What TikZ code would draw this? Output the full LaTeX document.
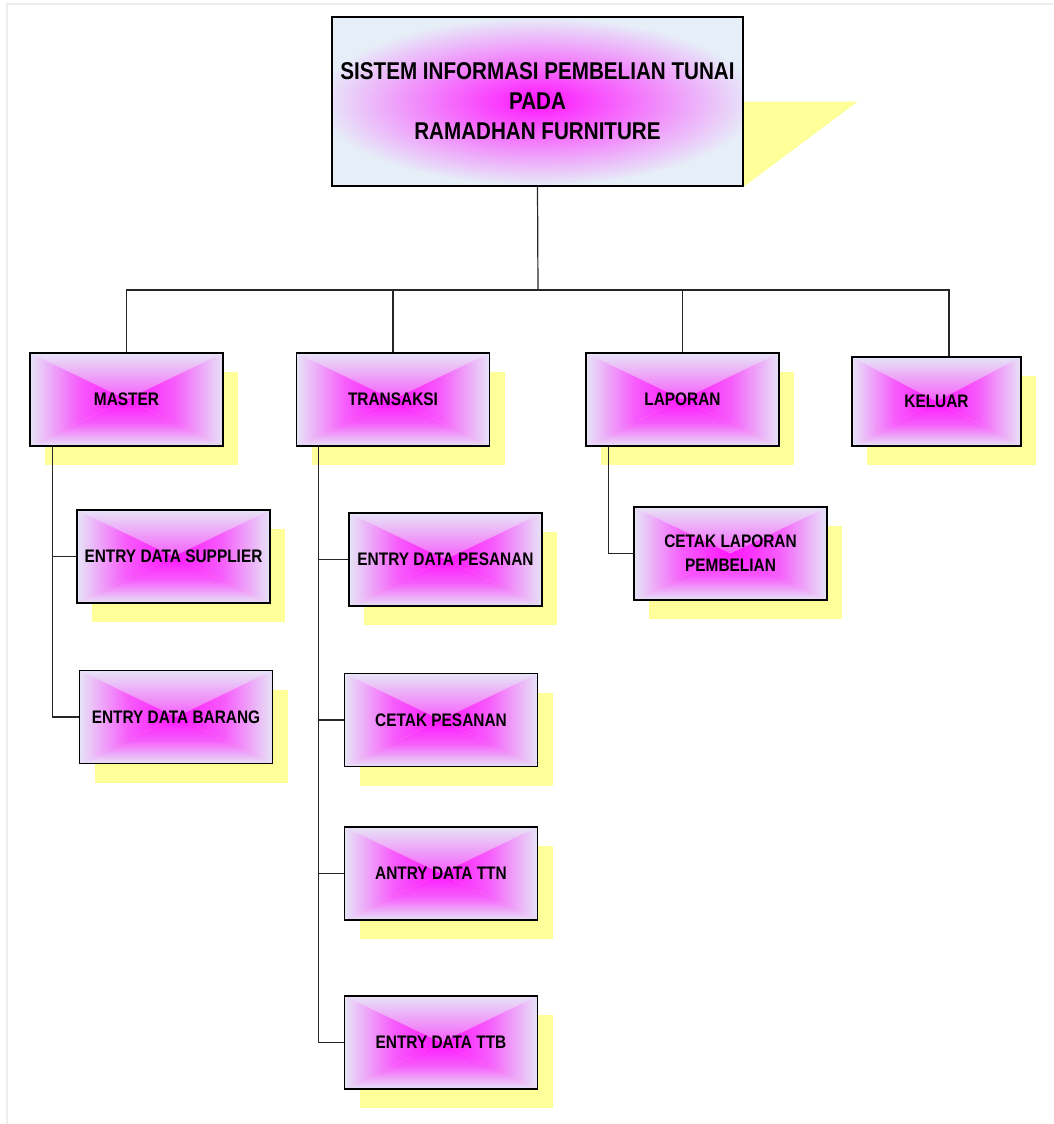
\documentclass[tikz,border=0pt]{standalone}
\usepackage{fontspec}
\usetikzlibrary{shadows,backgrounds}
\newfontfamily\boxfont{Liberation Sans}[FakeStretch=0.85]

\definecolor{mag}{RGB}{255,20,255}
\definecolor{edge}{RGB}{230,228,246}
\definecolor{titlebg}{RGB}{230,238,248}
\definecolor{shadowyel}{RGB}{255,255,153}

\tikzstyle{b} = [rectangle, draw, line width=1pt, minimum width=144.75pt, minimum height=69.75pt, align=center, inner sep=0pt,
	font=\boxfont\bfseries\fontsize{13.6}{18}\selectfont,
	drop shadow={shadow xshift=11.25pt, shadow yshift=-14.6pt, fill=shadowyel, opacity=1},
	path picture={
		\shade[top color=edge, bottom color=mag, middle color=mag!65!edge] (path picture bounding box.center) -- (path picture bounding box.north west) -- (path picture bounding box.north east) -- cycle;
		\shade[top color=mag, bottom color=edge, middle color=mag!65!edge] (path picture bounding box.center) -- (path picture bounding box.south west) -- (path picture bounding box.south east) -- cycle;
		\shade[left color=edge, right color=mag, middle color=mag!65!edge] (path picture bounding box.center) -- (path picture bounding box.north west) -- (path picture bounding box.south west) -- cycle;
		\shade[left color=mag, right color=edge, middle color=mag!65!edge] (path picture bounding box.center) -- (path picture bounding box.north east) -- (path picture bounding box.south east) -- cycle;
	}]
\tikzstyle{t} = [rectangle, draw, line width=1pt, fill=titlebg, minimum width=308.25pt, minimum height=126.75pt, align=center,
	font=\boxfont\bfseries\fontsize{18.2}{22.5}\selectfont,
	path picture={
		\shade[inner color=mag, outer color=titlebg] (path picture bounding box.center) ellipse (165pt and 62pt);
	}]
\tikzstyle{e} = [draw, line width=0.9pt, black!85]

\begin{document}
\begin{tikzpicture}[x=0.75pt, y=-0.75pt]
	\useasboundingbox (0,0) rectangle (1053,1124);
	\draw [black!7, line width=1.5pt] (7,1124) -- (7,4) -- (1053,4);

	\node [t] (sis) at (537.5,101.5) {SISTEM INFORMASI PEMBELIAN TUNAI\\PADA\\RAMADHAN FURNITURE};
	\begin{scope}[on background layer]
		\fill [shadowyel] (sis.east) -- ++(114,0) -- (sis.south east) -- cycle;
	\end{scope}

	\node [b] (master) at (126.5,399.5) {MASTER};
	\node [b] (trans) at (393,399.5) {TRANSAKSI};
	\node [b] (lap) at (682.5,399.5) {LAPORAN};
	\node [b, minimum width=126.75pt, minimum height=66.75pt] (kel) at (936.5,401.5) {KELUAR};

	\node [b] (sup) at (173.5,556.5) {ENTRY DATA SUPPLIER};
	\node [b] (brg) at (176,717) {ENTRY DATA BARANG};

	\node [b] (pes) at (445.5,559.5) {ENTRY DATA PESANAN};
	\node [b] (cpes) at (441,720) {CETAK PESANAN};
	\node [b] (ttn) at (441,873.5) {ANTRY DATA TTN};
	\node [b] (ttb) at (441,1042.5) {ENTRY DATA TTB};

	\node [b] (clap) at (730.5,553.5) {CETAK LAPORAN\\PEMBELIAN};

	\coordinate (bus) at (538,290);
	\draw [e] (sis.south) -- (bus);
	\draw [e] (master.north) |- (bus);
	\draw [e] (trans.north) |- (bus);
	\draw [e] (lap.north) |- (bus);
	\draw [e] ([xshift=9.4pt]kel.north) |- (bus);

	\draw [e] ([xshift=17.25pt]master.south west) |- (sup.west);
	\draw [e] ([xshift=17.25pt]master.south west) |- (brg.west);
	\draw [e] ([xshift=17.25pt]trans.south west) |- (pes.west);
	\draw [e] ([xshift=17.25pt]trans.south west) |- (cpes.west);
	\draw [e] ([xshift=17.25pt]trans.south west) |- (ttn.west);
	\draw [e] ([xshift=17.25pt]trans.south west) |- (ttb.west);
	\draw [e] ([xshift=17.25pt]lap.south west) |- (clap.west);

\end{tikzpicture}
\end{document}
